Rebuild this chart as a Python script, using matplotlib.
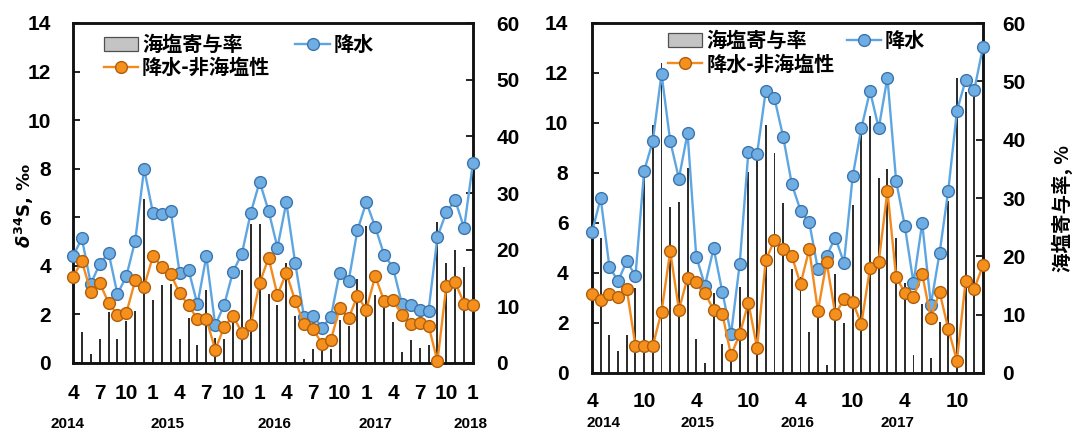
import numpy as np
import pandas as pd
import matplotlib
matplotlib.use("Agg")
import matplotlib.pyplot as plt
import matplotlib.transforms as mtransforms
from matplotlib import font_manager
from matplotlib.patches import Patch
from matplotlib.lines import Line2D
from matplotlib.font_manager import FontProperties

nan = float("nan")

# Monthly sampling period (both panels)
months = pd.period_range("2014-04", "2018-01", freq="M")

# Left panel: delta34S of precipitation (permil) and sea-salt contribution (%)
left_rain = [4.40, 5.13, 3.26, 4.07, 4.54, 2.84, 3.57, 5.04, 8.00, 6.17,
             6.12, 6.25, 3.69, 3.83, 2.41, 4.40, 1.56, 2.38, 3.76, 4.50,
             6.19, 7.46, 6.27, 4.75, 6.61, 4.11, 1.88, 1.95, 1.46, 1.88,
             3.72, 3.36, 5.47, 6.62, 5.60, 4.46, 3.93, 2.44, 2.37, 2.19,
             2.15, 5.20, 6.21, 6.70, 5.56, 8.25]
left_nss = [3.55, 4.18, 2.94, 3.30, 2.48, 1.99, 2.06, 3.40, 3.15, 4.40,
            3.97, 3.66, 2.87, 2.38, 1.80, 1.82, 0.55, 1.47, 1.95, 1.24,
            1.57, 3.29, 4.33, 2.80, 3.71, 2.55, 1.62, 1.42, 0.78, 0.93,
            2.27, 1.84, 2.76, 2.20, 3.58, 2.55, 2.59, 1.99, 1.62, 1.63,
            1.54, 0.07, 3.18, 3.32, 2.45, 2.38]
left_ss = [nan, 5.5, 1.6, 4.2, 9.0, 4.3, 7.5, 9.2, 29.0, 11.2,
           13.7, 14.0, 4.3, 7.9, 3.1, 12.9, 4.5, 4.3, 9.2, 16.5,
           24.6, 24.6, 12.2, 10.2, 17.6, 8.3, 0.7, 2.5, 2.1, 2.5,
           7.6, 6.5, 14.9, 24.2, 12.0, 9.9, 7.3, 2.0, 4.1, 2.6,
           3.1, 24.9, 17.6, 20.0, 17.0, nan]

# Right panel
right_rain = [5.64, 6.99, 4.25, 3.67, 4.48, 3.88, 8.08, 9.28, 11.97, 9.28,
              7.78, 9.59, 4.65, 3.50, 4.99, 3.24, 1.55, 4.37, 8.86, 8.77,
              11.30, 10.99, 9.45, 7.55, 6.50, 6.03, 4.15, 4.68, 5.42, 4.41,
              7.87, 9.79, 11.28, 9.79, 11.82, 7.69, 5.88, 3.60, 6.00, 2.73,
              4.79, 7.29, 10.48, 11.72, 11.33, 13.05]
right_nss = [3.18, 2.94, 3.16, 3.04, 3.35, 1.09, 1.09, 1.09, 2.45, 4.88,
             2.53, 3.81, 3.65, 3.21, 2.51, 2.37, 0.71, 1.55, 2.81, 1.01,
             4.51, 5.32, 4.95, 4.68, 3.55, 4.95, 2.48, 4.44, 2.35, 2.95,
             2.84, 1.96, 4.21, 4.44, 7.29, 3.85, 3.21, 3.05, 3.95, 2.21,
             3.24, 1.77, 0.49, 3.68, 3.37, 4.31]
right_ss = [nan, 23.1, 6.5, 3.7, 6.5, 14.5, 34.5, 42.5, 53.2, 28.5,
            29.4, 35.1, 5.9, 1.7, 13.7, 5.0, 3.0, 14.8, 34.5, 38.0,
            42.6, 37.8, 29.1, 17.9, 16.5, 7.1, 10.8, 1.4, 17.0, 8.5,
            28.8, 42.0, 44.0, 33.4, 35.0, 23.1, 15.4, 3.1, 11.9, 2.5,
            8.8, 29.5, 50.5, 48.2, 47.5, nan]

label_ss = "海塩寄与率"
label_rain = "降水"
label_nss = "降水-非海塩性"
years = ["2014", "2015", "2016", "2017", "2018"]

# Fonts
available = {f.name for f in font_manager.fontManager.ttflist}
num_font = "Liberation Sans Narrow" if "Liberation Sans Narrow" in available else "Liberation Sans"
cjk_font = "Noto Sans CJK JP"
plt.rcParams["font.family"] = [num_font, cjk_font, "DejaVu Sans"]
plt.rcParams["font.weight"] = "bold"

BLUE_LINE, BLUE_FILL, BLUE_EDGE = "#5ea6e2", "#6eaee2", "#3d74ad"
ORANGE_LINE, ORANGE_FILL, ORANGE_EDGE = "#f28a1e", "#f5901c", "#b05e0c"
BAR_COLOR = "#2e2e2e"

x = np.arange(len(months))
month_num = np.array([p.month for p in months])

fig = plt.figure(figsize=(10.75, 4.32), dpi=100)
axL = fig.add_axes([73 / 1075, 69 / 432, 400 / 1075, 340 / 432])
axR = fig.add_axes([592 / 1075, 59 / 432, 391 / 1075, 350 / 432])


def draw_panel(ax, rain, nss, ss, tick_months, year_x, year_y, pads, legend_anchor, colspace):
    ax2 = ax.twinx()
    ax2.bar(x, ss, width=0.22, color=BAR_COLOR, linewidth=0, zorder=1)
    ax2.set_ylim(0, 60)
    ax2.set_yticks(np.arange(0, 61, 10))
    ax.set_zorder(ax2.get_zorder() + 1)
    ax.patch.set_visible(False)

    ax.plot(x, rain, "-o", color=BLUE_LINE, lw=1.7, ms=8.5, mfc=BLUE_FILL,
            mec=BLUE_EDGE, mew=1.0, clip_on=False, zorder=3)
    ax.plot(x, nss, "-o", color=ORANGE_LINE, lw=1.7, ms=8.5, mfc=ORANGE_FILL,
            mec=ORANGE_EDGE, mew=1.0, clip_on=False, zorder=4)

    ax.set_xlim(0, len(x) - 1)
    ax.set_ylim(0, 14)
    ax.set_yticks(np.arange(0, 15, 2))

    sel = np.isin(month_num, tick_months)
    ax.set_xticks(x[sel])
    ax.set_xticklabels([str(m) for m in month_num[sel]])

    left_pad, right_pad, x_pad = pads
    ax.tick_params(axis="y", direction="in", length=5, width=1.2, pad=left_pad, labelsize=15)
    ax.tick_params(axis="x", length=0, pad=x_pad, labelsize=15)
    ax2.tick_params(axis="y", direction="in", length=5, width=1.2, pad=right_pad, labelsize=15)
    for a in (ax, ax2):
        for s in a.spines.values():
            s.set_linewidth(1.8)
            s.set_color("#111111")

    trans = mtransforms.blended_transform_factory(ax.transData, ax.transAxes)
    for yr, xp in zip(years, year_x):
        ax.text(xp, year_y, yr, transform=trans, ha="center", va="center",
                fontsize=11, fontweight="bold")

    handles = [
        Patch(facecolor="#c4c4c4", edgecolor="#505050", linewidth=0.9),
        Line2D([], [], color=ORANGE_LINE, lw=1.7, marker="o", ms=8.5,
               mfc=ORANGE_FILL, mec=ORANGE_EDGE),
        Line2D([], [], color=BLUE_LINE, lw=1.7, marker="o", ms=8.5,
               mfc=BLUE_FILL, mec=BLUE_EDGE),
    ]
    ax.legend(handles, [label_ss, label_nss, label_rain], ncol=2,
              loc="upper left", bbox_to_anchor=legend_anchor, frameon=False,
              prop=FontProperties(family=cjk_font, weight="bold", size=14.5),
              handlelength=1.7, handletextpad=0.2, columnspacing=colspace,
              labelspacing=0.1, borderpad=0, borderaxespad=0)


draw_panel(axL, left_rain, left_nss, left_ss, [1, 4, 7, 10],
           [-0.6, 10.6, 22.7, 34.0, 44.7], -0.18, (16, 17, 15),
           (0.077, 0.967), 1.25)
draw_panel(axR, right_rain, right_nss, right_ss, [4, 10],
           [1.3, 12.1, 23.6, 35.2], -0.143, (17, 14, 14),
           (0.195, 0.979), 0.6)

fig.text(24 / 1075, 1 - 205 / 432, r"$\delta^{34}$S, ‰", rotation=90,
         ha="center", va="center", fontsize=13, fontweight="bold",
         family=["DejaVu Sans"])
fig.text(1062 / 1075, 1 - 208 / 432, "海塩寄与率, %", rotation=90,
         ha="center", va="center", fontsize=14, fontweight="bold",
         family=[cjk_font])

fig.savefig("out.png", dpi=100, facecolor="white")
